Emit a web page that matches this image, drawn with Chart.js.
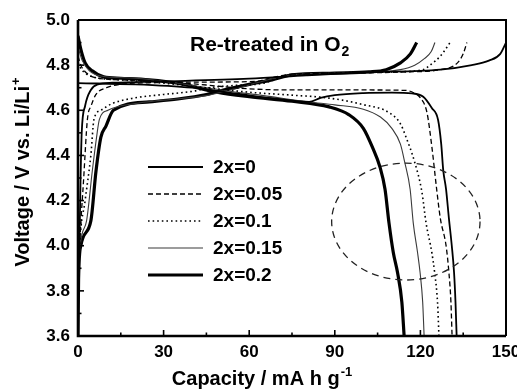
<!DOCTYPE html>
<html>
<head>
<meta charset="utf-8">
<script src="https://cdn.jsdelivr.net/npm/chart.js@4"></script>
<style>
  body { margin: 0; background: #fff; }
  #wrap { width: 517px; height: 389px; }
</style>
</head>
<body>
<div id="wrap"><canvas id="capChart" width="517" height="389"></canvas></div>
<script>
// series names, same order as the legend
var seriesLabels = ['2x=0', '2x=0.05', '2x=0.1', '2x=0.15', '2x=0.2'];

// charge curves (capacity mA h/g, voltage V)
var chg0Cap = [0, 0.2, 0.5, 0.9, 1.3, 2.5, 4.5, 7, 12, 30, 60, 80, 100, 127, 138, 144, 148, 150];
var chg0V   = [3.6, 3.85, 4.0, 4.3, 4.5, 4.62, 4.69, 4.715, 4.722, 4.728, 4.74, 4.755, 4.768, 4.78, 4.8, 4.82, 4.85, 4.9];
var chg1Cap = [0, 0.2, 0.6, 2, 3.3, 4.6, 6.3, 10, 15, 25, 45, 62, 68, 75, 95, 115, 127, 133, 135, 136.3];
var chg1V   = [3.6, 3.85, 4.0, 4.3, 4.56, 4.62, 4.67, 4.7, 4.715, 4.722, 4.725, 4.728, 4.745, 4.76, 4.765, 4.77, 4.78, 4.81, 4.85, 4.9];
var chg2Cap = [0, 0.2, 0.6, 2.5, 4.5, 5.6, 8, 12, 20, 30, 40.6, 46, 55, 65, 72, 85, 110, 121, 123.4, 127, 130.4];
var chg2V   = [3.6, 3.85, 4.0, 4.2, 4.4, 4.56, 4.6, 4.63, 4.655, 4.67, 4.685, 4.7, 4.71, 4.72, 4.75, 4.763, 4.77, 4.78, 4.8, 4.84, 4.9];
var chg3Cap = [0, 0.2, 0.8, 3, 5, 6.5, 7.5, 10.5, 20, 30, 45, 55, 65, 75, 90, 105, 113, 118, 121.5, 123.8, 125.1];
var chg3V   = [3.6, 3.85, 4.0, 4.11, 4.33, 4.48, 4.56, 4.6, 4.63, 4.645, 4.665, 4.695, 4.73, 4.757, 4.765, 4.77, 4.78, 4.8, 4.83, 4.86, 4.9];
var chg4Cap = [0, 0.2, 1, 4.5, 6.3, 8, 9.8, 12.4, 25, 35, 45, 51, 60, 68, 75, 90, 102, 108, 113, 116.5, 118.7];
var chg4V   = [3.6, 3.85, 4.0, 4.11, 4.33, 4.48, 4.53, 4.6, 4.637, 4.65, 4.67, 4.69, 4.715, 4.735, 4.757, 4.765, 4.77, 4.78, 4.81, 4.85, 4.9];

// discharge curves
var dis0Cap = [0, 20, 40, 55, 70, 81, 85, 90, 100, 110, 117, 121, 124, 126.2, 127.3, 128, 129, 130, 131, 131.8, 132.3, 132.7];
var dis0V   = [4.72, 4.715, 4.7, 4.675, 4.65, 4.637, 4.655, 4.667, 4.676, 4.678, 4.675, 4.66, 4.61, 4.557, 4.45, 4.335, 4.25, 4.12, 4.0, 3.88, 3.75, 3.6];
var dis1Cap = [0, 1, 3, 6, 15, 30, 45, 60, 75, 100, 115, 118, 120, 122.3, 124, 125.7, 127, 129, 130, 130.7, 131.1];
var dis1V   = [4.84, 4.8, 4.765, 4.745, 4.735, 4.728, 4.712, 4.695, 4.69, 4.69, 4.688, 4.675, 4.655, 4.59, 4.44, 4.25, 4.12, 4.0, 3.88, 3.75, 3.6];
var dis2Cap = [0, 1, 3, 6, 15, 30, 45, 60, 75, 88, 100, 109, 113, 115, 118, 120.5, 122, 124, 125, 126, 126.5];
var dis2V   = [4.81, 4.785, 4.76, 4.745, 4.735, 4.72, 4.7, 4.68, 4.667, 4.654, 4.625, 4.59, 4.54, 4.48, 4.37, 4.24, 4.1, 3.97, 3.88, 3.75, 3.6];
var dis3Cap = [0, 1.5, 4, 8, 20, 35, 50, 65, 81, 90, 100, 106, 110, 113, 114.5, 116.4, 117.5, 119, 119.9, 120.8, 121.3];
var dis3V   = [4.88, 4.82, 4.775, 4.752, 4.742, 4.72, 4.69, 4.665, 4.637, 4.624, 4.605, 4.57, 4.52, 4.45, 4.37, 4.25, 4.1, 3.97, 3.88, 3.75, 3.6];
var dis4Cap = [0, 1, 2.5, 5, 9, 15, 25, 35, 48.7, 60, 75, 88, 95, 100, 103.4, 105.8, 107.6, 109, 110.5, 112, 113.5, 114.3];
var dis4V   = [4.93, 4.87, 4.81, 4.775, 4.748, 4.742, 4.735, 4.72, 4.68, 4.66, 4.64, 4.615, 4.58, 4.52, 4.43, 4.35, 4.25, 4.1, 3.97, 3.88, 3.75, 3.6];

// dashed ellipse marking the 4 V region (capacity, voltage)
var ringCenter = [114.9, 4.107];
var ringRadius = [26, 0.259];

var charge = [[chg0Cap, chg0V], [chg1Cap, chg1V], [chg2Cap, chg2V], [chg3Cap, chg3V], [chg4Cap, chg4V]];
var discharge = [[dis0Cap, dis0V], [dis1Cap, dis1V], [dis2Cap, dis2V], [dis3Cap, dis3V], [dis4Cap, dis4V]];

var lineStyles = [
    { color: '#000', width: 1.8, dash: [] },
    { color: '#000', width: 1.3, dash: [5, 3] },
    { color: '#000', width: 1.6, dash: [1.6, 3] },
    { color: '#3a3a3a', width: 1.1, dash: [] },
    { color: '#000', width: 3.2, dash: [] }
];

var FONT = '"Liberation Sans", Arial, sans-serif';

function toPoints(pair) {
    return pair[0].map(function (c, i) { return { x: c, y: pair[1][i] }; });
}

var datasets = [];
seriesLabels.forEach(function (name, i) {
    [charge[i], discharge[i]].forEach(function (curve) {
        datasets.push({
            label: name,
            data: toPoints(curve),
            showLine: true,
            borderColor: lineStyles[i].color,
            borderWidth: lineStyles[i].width,
            borderDash: lineStyles[i].dash,
            pointRadius: 0,
            cubicInterpolationMode: 'monotone',
            fill: false
        });
    });
});

// frame, inward ticks, ellipse, legend and titles
var decorPlugin = {
    id: 'decor',
    afterDatasetsDraw: function (chart) {
        var ctx = chart.ctx, a = chart.chartArea;
        var xs = chart.scales.x, ys = chart.scales.y;
        ctx.save();

        // dashed ellipse
        var cx = xs.getPixelForValue(ringCenter[0]);
        var cy = ys.getPixelForValue(ringCenter[1]);
        var rx = xs.getPixelForValue(ringCenter[0] + ringRadius[0]) - cx;
        var ry = cy - ys.getPixelForValue(ringCenter[1] + ringRadius[1]);
        ctx.beginPath();
        ctx.setLineDash([7, 5]);
        ctx.lineWidth = 1.3;
        ctx.strokeStyle = '#222';
        ctx.ellipse(cx, cy, rx, ry, 0, 0, Math.PI * 2);
        ctx.stroke();
        ctx.setLineDash([]);

        // frame
        ctx.strokeStyle = '#000';
        ctx.lineWidth = 2;
        ctx.beginPath();
        ctx.moveTo(a.left, a.top);
        ctx.lineTo(a.right, a.top);
        ctx.lineTo(a.right, a.bottom);
        ctx.stroke();
        ctx.lineWidth = 2.6;
        ctx.beginPath();
        ctx.moveTo(a.left, a.top);
        ctx.lineTo(a.left, a.bottom);
        ctx.lineTo(a.right, a.bottom);
        ctx.stroke();

        // inward tick marks
        ctx.lineWidth = 1.6;
        for (var c = 15; c < 150; c += 15) {
            var px = xs.getPixelForValue(c);
            var len = (c % 30 === 0) ? 6 : 3.5;
            ctx.beginPath();
            ctx.moveTo(px, a.bottom);
            ctx.lineTo(px, a.bottom - len);
            ctx.stroke();
        }
        for (var k = 37; k < 50; k++) {
            var py = ys.getPixelForValue(k / 10);
            var l2 = (k % 2 === 0) ? 6 : 3.5;
            ctx.beginPath();
            ctx.moveTo(a.left, py);
            ctx.lineTo(a.left + l2, py);
            ctx.stroke();
        }

        // legend
        var rowY = [167, 194, 221, 248, 275];
        seriesLabels.forEach(function (name, i) {
            var st = lineStyles[i];
            ctx.strokeStyle = st.color;
            ctx.lineWidth = st.width;
            ctx.setLineDash(st.dash);
            ctx.beginPath();
            ctx.moveTo(148, rowY[i]);
            ctx.lineTo(203, rowY[i]);
            ctx.stroke();
            ctx.setLineDash([]);
            ctx.fillStyle = '#000';
            ctx.font = 'bold 19px ' + FONT;
            ctx.textAlign = 'left';
            ctx.textBaseline = 'middle';
            ctx.fillText(name, 213, rowY[i] + 1);
        });

        // inset label
        ctx.textBaseline = 'alphabetic';
        ctx.font = 'bold 21px ' + FONT;
        var t = 'Re-treated in O';
        ctx.fillText(t, 190, 51);
        var tw = ctx.measureText(t).width;
        ctx.font = 'bold 14px ' + FONT;
        ctx.fillText('2', 190 + tw + 1, 56);

        // x title
        ctx.font = 'bold 20px ' + FONT;
        var xt = 'Capacity / mA h g';
        var xw = ctx.measureText(xt).width;
        ctx.font = 'bold 13px ' + FONT;
        var sw = ctx.measureText('-1').width;
        var x0 = 262 - (xw + sw + 1) / 2;
        ctx.font = 'bold 20px ' + FONT;
        ctx.fillText(xt, x0, 385);
        ctx.font = 'bold 13px ' + FONT;
        ctx.fillText('-1', x0 + xw + 1, 376);

        // y title
        ctx.translate(29, 172);
        ctx.rotate(-Math.PI / 2);
        ctx.font = 'bold 20px ' + FONT;
        var yt = 'Voltage / V vs. Li/Li';
        var yw = ctx.measureText(yt).width;
        ctx.font = 'bold 13px ' + FONT;
        var pw = ctx.measureText('+').width;
        var y0 = -(yw + pw + 1) / 2;
        ctx.font = 'bold 20px ' + FONT;
        ctx.fillText(yt, y0, 0);
        ctx.font = 'bold 13px ' + FONT;
        ctx.fillText('+', y0 + yw + 1, -9);

        ctx.restore();
    }
};

var ctx = document.getElementById('capChart').getContext('2d');
var capChart = new Chart(ctx, {
    type: 'scatter',
    data: { datasets: datasets },
    options: {
        responsive: false,
        animation: false,
        layout: { padding: { left: 20, right: 11, top: 20, bottom: 0 } },
        plugins: { legend: { display: false }, tooltip: { enabled: false } },
        scales: {
            x: {
                type: 'linear',
                min: 0,
                max: 150,
                grid: { display: false, drawTicks: false },
                border: { display: false },
                ticks: {
                    stepSize: 30,
                    padding: 6,
                    color: '#000',
                    font: { family: FONT, size: 17, weight: 'bold' }
                },
                afterFit: function (scale) {
                    scale.height = 53;
                    scale.paddingLeft = 0;
                    scale.paddingRight = 0;
                }
            },
            y: {
                type: 'linear',
                min: 3.6,
                max: 5.0,
                grid: { display: false, drawTicks: false },
                border: { display: false },
                ticks: {
                    stepSize: 0.2,
                    padding: 8,
                    color: '#000',
                    font: { family: FONT, size: 17, weight: 'bold' },
                    callback: function (v) { return v.toFixed(1); }
                },
                afterFit: function (scale) {
                    scale.width = 58;
                    scale.paddingTop = 0;
                    scale.paddingBottom = 0;
                }
            }
        }
    },
    plugins: [decorPlugin]
});
</script>
</body>
</html>
